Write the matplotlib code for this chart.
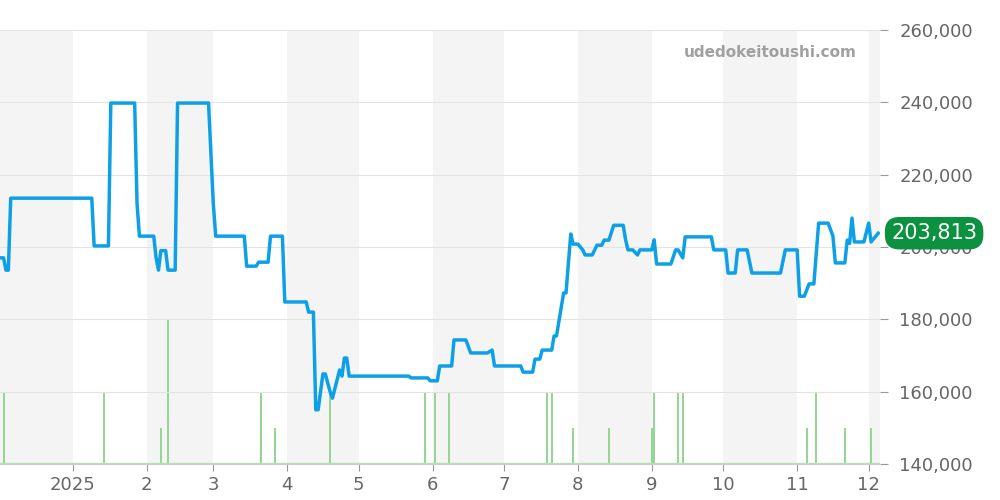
import matplotlib
matplotlib.use("Agg")
import matplotlib.pyplot as plt
import pandas as pd

price_dates = ["2024-12-02","2024-12-03","2024-12-04","2024-12-05","2024-12-06","2025-01-09","2025-01-10","2025-01-16","2025-01-17","2025-01-27","2025-01-28","2025-01-29","2025-02-04","2025-02-05","2025-02-06","2025-02-07","2025-02-09","2025-02-10","2025-02-13","2025-02-14","2025-02-27","2025-03-01","2025-03-02","2025-03-14","2025-03-15","2025-03-19","2025-03-20","2025-03-24","2025-03-25","2025-03-30","2025-03-31","2025-04-09","2025-04-10","2025-04-12","2025-04-13","2025-04-14","2025-04-16","2025-04-17","2025-04-19","2025-04-20","2025-04-23","2025-04-24","2025-04-25","2025-04-26","2025-04-27","2025-05-22","2025-05-23","2025-05-30","2025-05-31","2025-06-03","2025-06-04","2025-06-09","2025-06-10","2025-06-15","2025-06-17","2025-06-24","2025-06-26","2025-06-27","2025-07-08","2025-07-09","2025-07-13","2025-07-14","2025-07-16","2025-07-17","2025-07-21","2025-07-22","2025-07-23","2025-07-26","2025-07-27","2025-07-29","2025-07-30","2025-08-01","2025-08-03","2025-08-04","2025-08-07","2025-08-09","2025-08-11","2025-08-12","2025-08-14","2025-08-16","2025-08-20","2025-08-21","2025-08-22","2025-08-24","2025-08-26","2025-08-27","2025-09-01","2025-09-02","2025-09-03","2025-09-09","2025-09-11","2025-09-12","2025-09-14","2025-09-15","2025-09-26","2025-09-27","2025-10-02","2025-10-03","2025-10-06","2025-10-07","2025-10-11","2025-10-13","2025-10-25","2025-10-27","2025-11-01","2025-11-02","2025-11-04","2025-11-06","2025-11-08","2025-11-10","2025-11-14","2025-11-16","2025-11-17","2025-11-21","2025-11-22","2025-11-23","2025-11-24","2025-11-25","2025-11-29","2025-12-01","2025-12-02","2025-12-05"]
prices = [197000,197000,193600,193600,213500,213500,200300,200300,239800,239800,212000,203000,203000,197000,193600,199000,199000,193600,193600,239800,239800,212000,203000,203000,194700,194700,195800,195800,203000,203000,184800,184800,182000,182000,155000,155000,164900,164900,160000,158200,166000,164300,169300,169300,164300,164300,163800,163800,163000,163000,167100,167100,174300,174300,170700,170700,171500,167100,167100,165400,165400,169000,169000,171500,171500,175400,175400,187300,187300,203600,200800,200800,199200,197800,197800,200500,200500,201900,201900,206000,206000,202000,199200,199200,197800,199200,199200,202000,195300,195300,199200,199200,197000,202800,202800,199200,199200,192800,192800,199200,199200,192800,192800,199200,199200,186400,186400,189800,189800,206600,206600,203000,195600,195600,201900,201000,208000,201400,201400,206600,201400,203813]

vol_dates = ["2024-12-03","2025-01-14","2025-02-07","2025-02-10","2025-03-21","2025-03-27","2025-04-19","2025-05-29","2025-06-02","2025-06-08","2025-07-19","2025-07-21","2025-07-30","2025-08-14","2025-09-01","2025-09-02","2025-09-12","2025-09-14","2025-11-05","2025-11-09","2025-11-21","2025-12-02"]
volumes = [2,2,1,4,2,1,2,2,2,2,2,2,1,1,1,2,2,2,1,2,1,1]

month_ticks = ["2025-01-01","2025-02-01","2025-03-01","2025-04-01","2025-05-01","2025-06-01","2025-07-01","2025-08-01","2025-09-01","2025-10-01","2025-11-01","2025-12-01"]
month_labels = ["2025","2","3","4","5","6","7","8","9","10","11","12"]
last_label = "203,813"

pd_dates = pd.to_datetime(price_dates)
vd = pd.to_datetime(vol_dates)
xmin, xmax = pd.Timestamp("2024-12-01T12"), pd.Timestamp("2025-12-05T18")

fig = plt.figure(figsize=(10, 5), dpi=100)
ax = fig.add_axes([0, 0.072, 0.88, 0.868])
ax2 = ax.twinx()
ax.set_zorder(ax2.get_zorder() + 1); ax.patch.set_visible(False)

shade = ["2024-12-01","2025-02-01","2025-04-01","2025-06-01","2025-08-01","2025-10-01","2025-12-01"]
for s in shade:
    a = pd.Timestamp(s); b = a + pd.offsets.MonthBegin(1)
    ax2.axvspan(a, b, color="#f4f4f4", zorder=0, lw=0)

ax2.bar(vd, volumes, width=0.8, color="#96d596", zorder=2)
ax2.set_ylim(0, 12.06)
ax2.set_yticks([])
ax2.axhline(0.02, color="#b5e0b5", lw=1)

ax.plot(pd_dates, prices, color="#0ea0e6", lw=2.5, zorder=5)
ax.set_ylim(140000, 260000)
ax.set_xlim(xmin, xmax)
ax2.set_xlim(xmin, xmax)
yt = list(range(140000, 260001, 20000))
ax.set_yticks(yt)
ax.set_yticklabels([f"{v:,}" for v in yt])
ax.yaxis.tick_right()
ax.tick_params(axis="y", labelsize=13, colors="#999999", length=6, pad=8, labelcolor="#666666")
ax.grid(axis="y", color="#e3e3e3", lw=0.8)
ax.set_xticks(pd.to_datetime(month_ticks))
ax.set_xticklabels(month_labels)
ax.tick_params(axis="x", labelsize=13, labelcolor="#666666", colors="#999999", length=5)
for a in (ax, ax2):
    for sp in a.spines.values():
        sp.set_visible(False)
ax.spines["bottom"].set_visible(True); ax.spines["bottom"].set_color("#cccccc")

ax.text(0.973, 0.948, "udedokeitoushi.com", transform=ax.transAxes, ha="right", va="center",
        fontsize=11, fontweight="bold", color="#a0a0a0")
ax.annotate(last_label, xy=(1.0, prices[-1]), xycoords=("axes fraction", "data"),
            xytext=(8, 0), textcoords="offset points", ha="left", va="center",
            fontsize=15, color="white", annotation_clip=False,
            bbox=dict(boxstyle="round,pad=0.3,rounding_size=0.7", fc="#0b9140", ec="none"), zorder=10)
fig.savefig("out.png", dpi=100)
